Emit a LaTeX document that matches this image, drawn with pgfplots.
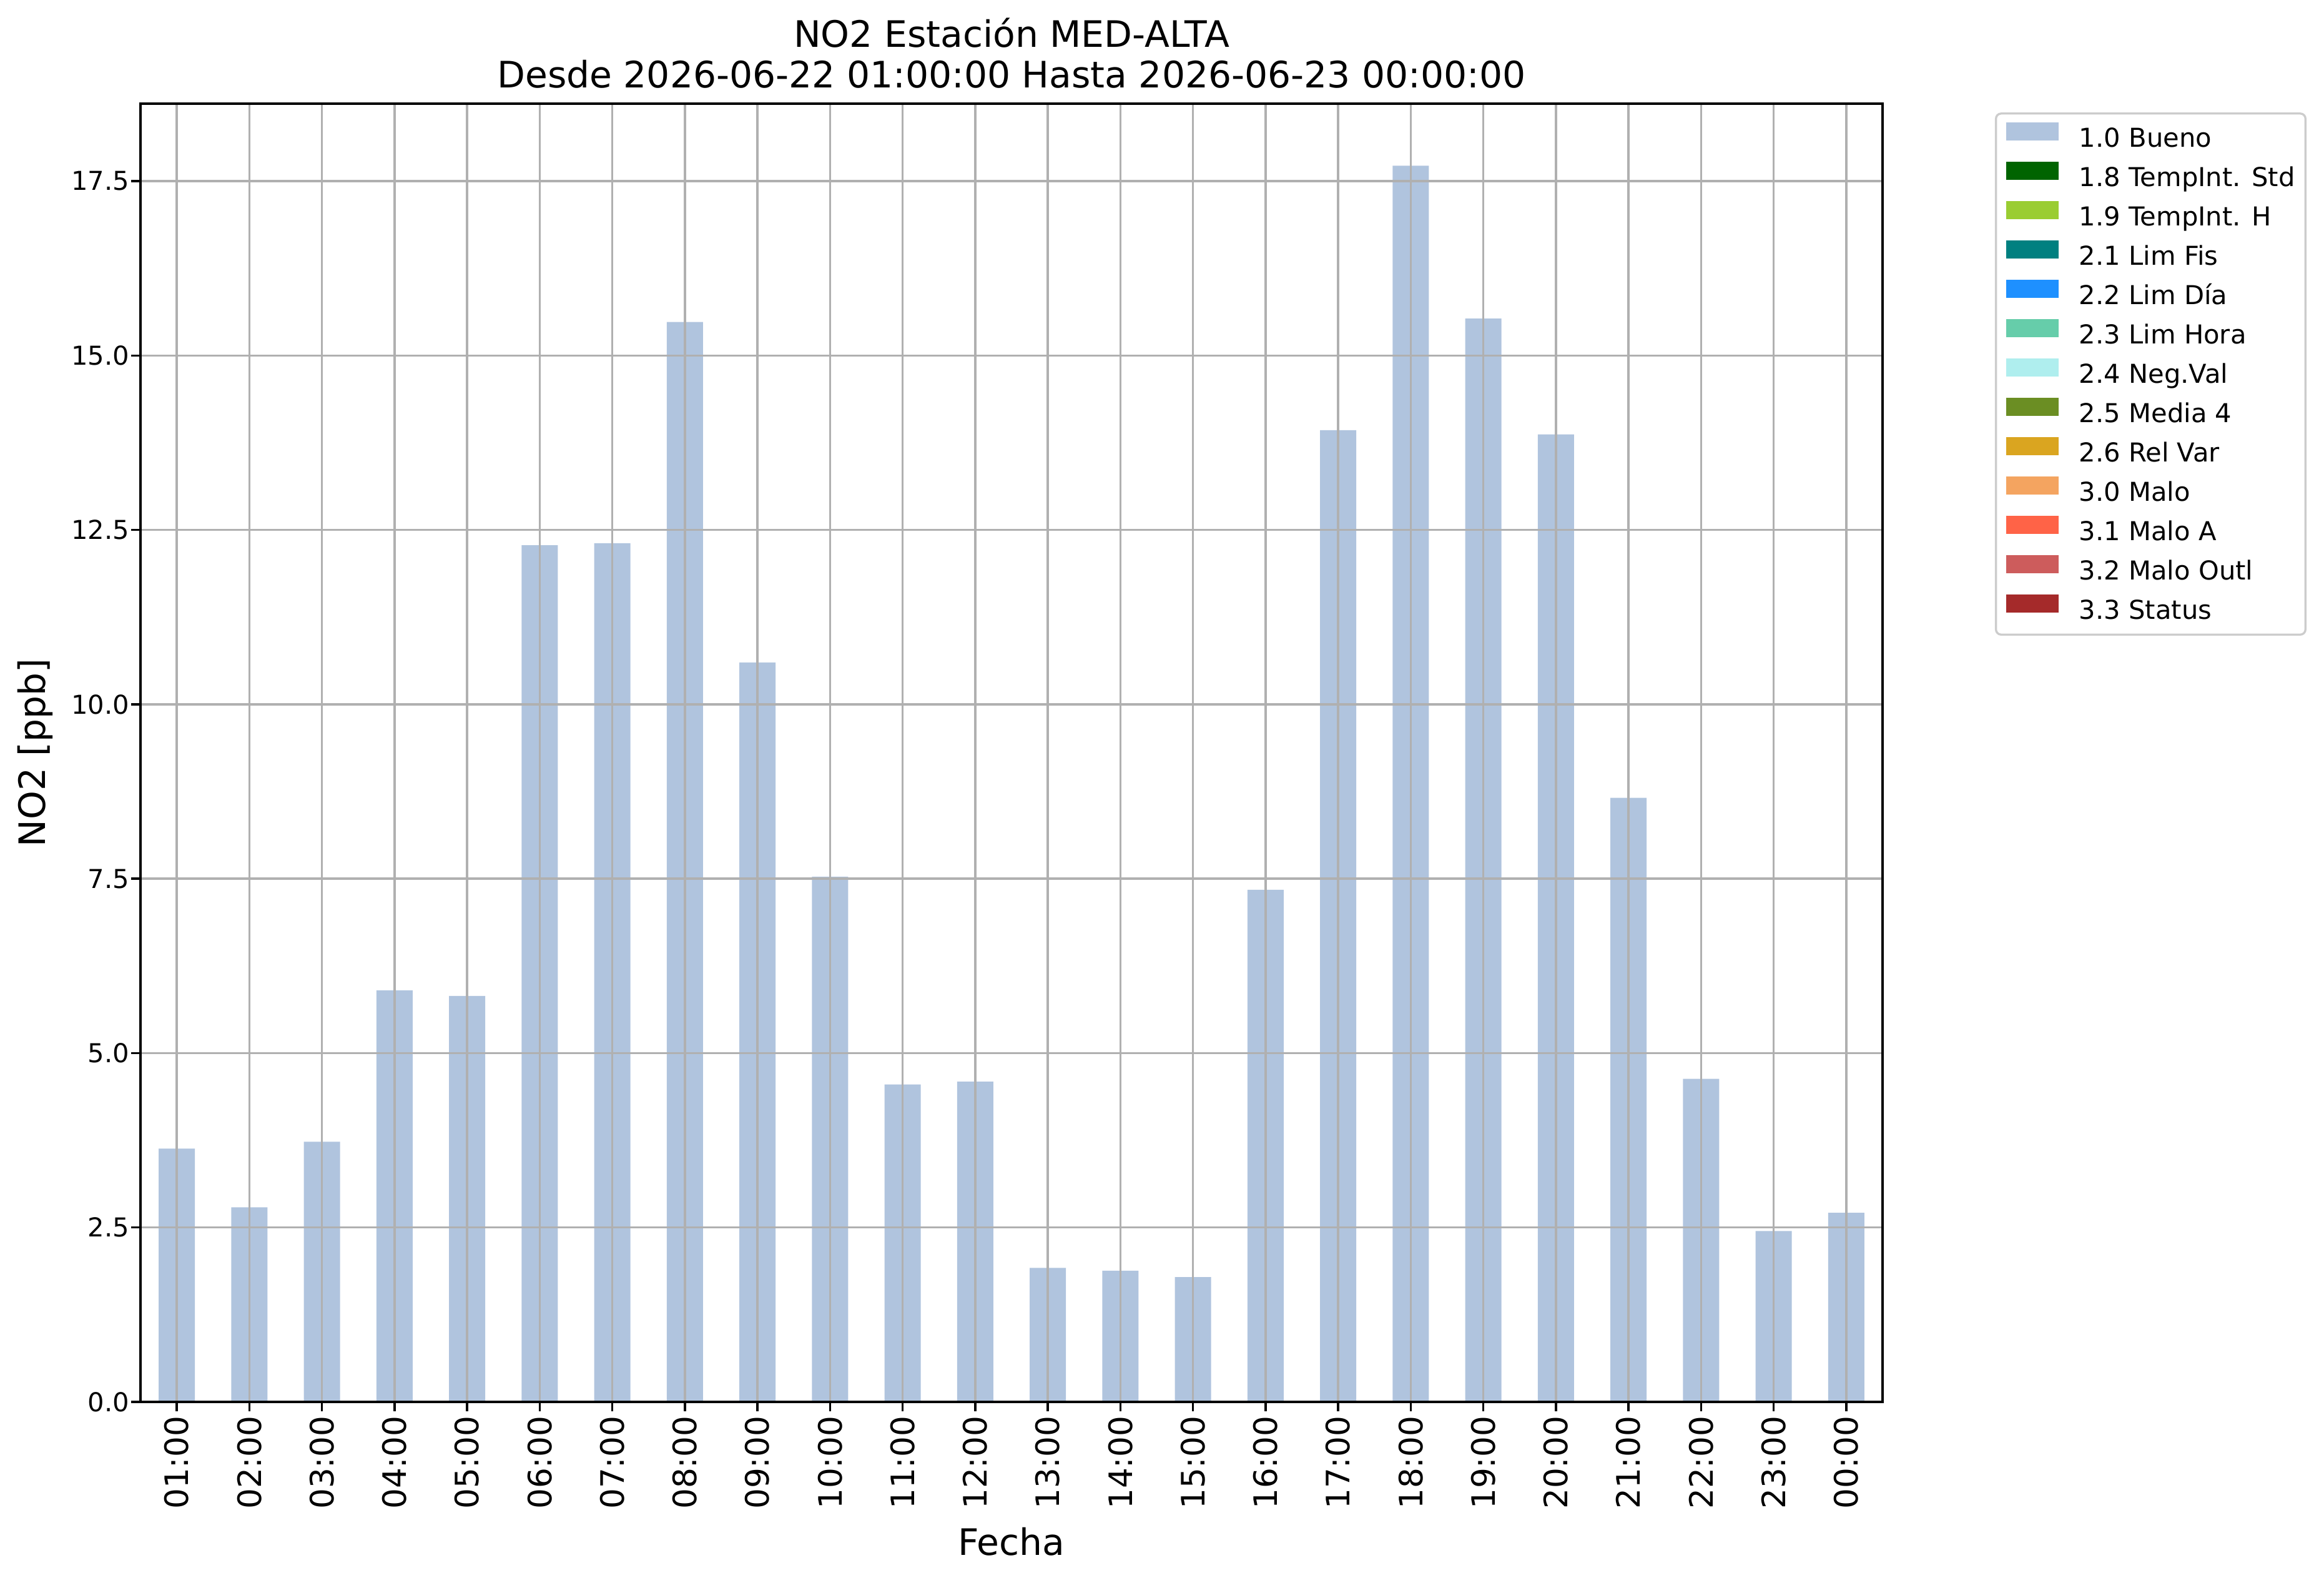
\documentclass[border=0pt]{standalone}
\usepackage{pgfplots}
\pgfplotsset{compat=1.18}
\usepackage{fontspec}
\setmainfont{DejaVu Sans}
\definecolor{bueno}{HTML}{B0C4DE}
\definecolor{c18}{HTML}{006400}
\definecolor{c19}{HTML}{9ACD32}
\definecolor{c21}{HTML}{008080}
\definecolor{c22}{HTML}{1E90FF}
\definecolor{c23}{HTML}{66CDAA}
\definecolor{c24}{HTML}{AFEEEE}
\definecolor{c25}{HTML}{6B8E23}
\definecolor{c26}{HTML}{DAA520}
\definecolor{c30}{HTML}{F4A460}
\definecolor{c31}{HTML}{FF6347}
\definecolor{c32}{HTML}{CD5C5C}
\definecolor{c33}{HTML}{A52A2A}
\definecolor{gridgray}{HTML}{B0B0B0}
\definecolor{legendgray}{HTML}{CCCCCC}
\pgfplotstableread{
x y
0 3.63
1 2.79
2 3.73
3 5.90
4 5.82
5 12.28
6 12.31
7 15.48
8 10.60
9 7.53
10 4.55
11 4.59
12 1.92
13 1.88
14 1.79
15 7.34
16 13.93
17 17.72
18 15.53
19 13.87
20 8.66
21 4.63
22 2.45
23 2.71
}\datatable
\begin{document}
\begin{tikzpicture}
\path[use as bounding box] (-54pt,-69.4pt) rectangle (839.3pt,538.8pt);
\begin{axis}[
  at={(0,0)}, anchor=south west,
  scale only axis, width=669.6pt, height=498.96pt,
  xmin=-0.5, xmax=23.5, ymin=0, ymax=18.61,
  xtick={0,...,23},
  xticklabels={01:00,02:00,03:00,04:00,05:00,06:00,07:00,08:00,09:00,10:00,11:00,12:00,13:00,14:00,15:00,16:00,17:00,18:00,19:00,20:00,21:00,22:00,23:00,00:00},
  ytick={0,2.5,5,7.5,10,12.5,15,17.5},
  yticklabel style={/pgf/number format/fixed, /pgf/number format/fixed zerofill, /pgf/number format/precision=1},
  /pgf/number format/assume math mode=true,
  xtick pos=left, ytick pos=left,
  tick align=outside, major tick length=3.5pt,
  tick style={black, line width=0.8pt},
  axis line style={line width=0.8pt},
  grid=major, major grid style={color=gridgray, line width=0.8pt},
  axis on top,
  xticklabel style={rotate=90, anchor=east, font=\fontsize{12.4}{14}\selectfont, inner sep=1.8pt},
  yticklabel style={font=\fontsize{10}{12}\selectfont, inner sep=0.6pt},
  xlabel={Fecha},
  xlabel style={at={(axis description cs:0.5,-0.1076)}, anchor=center, font=\fontsize{14}{16}\selectfont},
  ylabel={NO2 [ppb]},
  ylabel style={at={(axis description cs:-0.0603,0.5)}, anchor=center, font=\fontsize{14}{16}\selectfont},
  title={NO2 Estación MED-ALTA\\Desde 2026-06-22 01:00:00 Hasta 2026-06-23 00:00:00},
  every axis title shift=0pt,
  title style={at={(axis description cs:0.5,1)}, anchor=south, yshift=5.8pt, inner sep=0pt, align=center, font=\fontsize{14}{15.6}\selectfont},
  legend image code/.code={\fill[#1,draw=none,sharp corners] (0pt,0.1pt) rectangle (20pt,7.1pt);},
  legend style={at={(1,1)}, anchor=north west, xshift=43.2pt, yshift=-3.4pt,
    draw=legendgray, line width=0.8pt, rounded corners=2pt,
    inner xsep=4pt, inner ysep=3.3pt, row sep=2.95pt, column sep=8pt,
    font=\fontsize{10}{12}\selectfont,
    nodes={inner sep=0pt, text height=7.6pt, text depth=2.55pt}},
  legend cell align=left,
]
\addplot[ybar, bar width=0.5, fill=bueno, draw=none, forget plot] table[x=x,y=y] {\datatable};
\addlegendimage{fill=bueno}\addlegendentry{1.0 Bueno}
\addlegendimage{fill=c18}\addlegendentry{1.8 TempInt. Std}
\addlegendimage{fill=c19}\addlegendentry{1.9 TempInt. H}
\addlegendimage{fill=c21}\addlegendentry{2.1 Lim Fis}
\addlegendimage{fill=c22}\addlegendentry{2.2 Lim Día}
\addlegendimage{fill=c23}\addlegendentry{2.3 Lim Hora}
\addlegendimage{fill=c24}\addlegendentry{2.4 Neg.Val}
\addlegendimage{fill=c25}\addlegendentry{2.5 Media 4}
\addlegendimage{fill=c26}\addlegendentry{2.6 Rel Var}
\addlegendimage{fill=c30}\addlegendentry{3.0 Malo}
\addlegendimage{fill=c31}\addlegendentry{3.1 Malo A}
\addlegendimage{fill=c32}\addlegendentry{3.2 Malo Outl}
\addlegendimage{fill=c33}\addlegendentry{3.3 Status}
\end{axis}
\end{tikzpicture}
\end{document}
